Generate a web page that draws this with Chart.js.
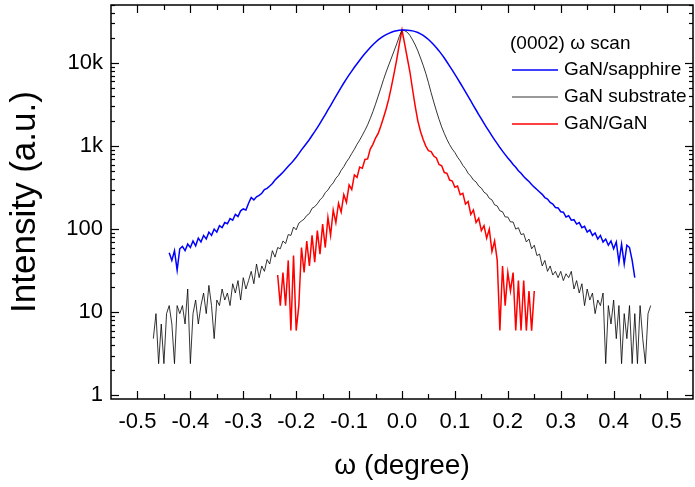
<!DOCTYPE html>
<html>
<head>
<meta charset="utf-8">
<script src="https://cdn.jsdelivr.net/npm/chart.js@4"></script>
<style>
  html, body { margin: 0; padding: 0; background: #fff; }
  #wrap { width: 695px; height: 487px; }
</style>
</head>
<body>
<div id="wrap"><canvas id="chart" width="695" height="487"></canvas></div>
<script>
// omega grid (degree), shared by the three scans
const omega = [
  -0.470,-0.465,-0.460,-0.455,-0.450,-0.445,-0.440,-0.435,-0.430,-0.425,-0.420,-0.415,-0.410,-0.405,-0.400,
  -0.395,-0.390,-0.385,-0.380,-0.375,-0.370,-0.365,-0.360,-0.355,-0.350,-0.345,-0.340,-0.335,-0.330,-0.325,
  -0.320,-0.315,-0.310,-0.305,-0.300,-0.295,-0.290,-0.285,-0.280,-0.275,-0.270,-0.265,-0.260,-0.255,-0.250,
  -0.245,-0.240,-0.235,-0.230,-0.225,-0.220,-0.215,-0.210,-0.205,-0.200,-0.195,-0.190,-0.185,-0.180,-0.175,
  -0.170,-0.165,-0.160,-0.155,-0.150,-0.145,-0.140,-0.135,-0.130,-0.125,-0.120,-0.115,-0.110,-0.105,-0.100,
  -0.095,-0.090,-0.085,-0.080,-0.075,-0.070,-0.065,-0.060,-0.055,-0.050,-0.045,-0.040,-0.035,-0.030,-0.025,
  -0.020,-0.015,-0.010,-0.005,0.000,0.005,0.010,0.015,0.020,0.025,0.030,0.035,0.040,0.045,0.050,
  0.055,0.060,0.065,0.070,0.075,0.080,0.085,0.090,0.095,0.100,0.105,0.110,0.115,0.120,0.125,
  0.130,0.135,0.140,0.145,0.150,0.155,0.160,0.165,0.170,0.175,0.180,0.185,0.190,0.195,0.200,
  0.205,0.210,0.215,0.220,0.225,0.230,0.235,0.240,0.245,0.250,0.255,0.260,0.265,0.270,0.275,
  0.280,0.285,0.290,0.295,0.300,0.305,0.310,0.315,0.320,0.325,0.330,0.335,0.340,0.345,0.350,
  0.355,0.360,0.365,0.370,0.375,0.380,0.385,0.390,0.395,0.400,0.405,0.410,0.415,0.420,0.425,
  0.430,0.435,0.440,0.445,0.450,0.455,0.460,0.465,0.470
];

// GaN/sapphire, omega -0.440 .. 0.440
const sapphireStart = 6;
const sapphire = [
  52,42,55,32,58,62,55,66,60,72,63,78,70,84,76,92,84,100,92,110,
  104,120,116,134,128,150,142,166,175,170,205,240,225,245,255,270,300,310,330,355,
  390,420,450,485,525,570,615,670,735,810,900,990,1090,1200,1340,1490,1670,1880,2120,2400,
  2720,3080,3500,3970,4500,5100,5750,6450,7200,8000,8900,9800,10800,11900,13000,14200,15400,16600,17800,19000,
  20100,21100,22000,22800,23500,24100,24500,24800,
  25000,
  25000,24900,24700,24400,23900,23300,22500,21500,20400,19200,
  17900,16600,15300,14000,12700,11500,10300,9200,8200,7300,
  6500,5750,5100,4500,3970,3500,3080,2720,2400,2120,
  1880,1670,1490,1330,1190,1070,960,870,790,720,
  660,600,555,505,470,430,400,375,345,320,
  300,280,262,240,230,210,200,182,180,162,
  160,140,145,128,130,115,120,104,108,92,
  98,84,90,76,84,70,76,64,72,58,
  70,40,66,38,64,60,42,26
];

// GaN substrate, omega -0.470 .. 0.470
const substrateStart = 0;
const substrate = [
  4.8,9.6,2.4,7.2,2.4,9.6,12,7.2,2.4,12,9.6,12,7.2,19,2.4,
  9.6,14,7.2,12,17,9.6,21,12,4.8,14,12,19,14,17,12,
  22,17,24,14,26,19,24,31,22,38,26,36,31,43,38,
  55,46,60,58,72,67,86,84,106,98,118,125,132,146,154,
  178,186,202,225,242,275,296,332,360,410,445,510,565,645,715,
  815,915,1050,1180,1350,1550,1800,2150,2600,3200,4000,5000,6300,7800,9500,
  11500,14000,17000,21000,25000,24500,23500,21500,19000,16500,14000,11500,9400,7500,5800,
  4400,3400,2650,2100,1700,1420,1200,1040,920,835,735,665,585,535,470,
  435,390,370,330,312,278,265,235,225,196,190,166,162,140,140,
  122,122,100,104,86,88,70,76,58,64,48,50,36,42,31,
  36,28,31,26,31,24,29,26,31,19,24,17,22,12,19,
  14,17,9.6,14,12,17,2.4,12,7.2,14,4.8,12,2.4,9.6,4.8,
  12,2.4,9.6,2.4,12,4.8,2.4,9.6,12
];

// GaN/GaN, omega -0.235 .. 0.250
const homoStart = 47;
const homo = [
  28,12,30,12,42,6,48,6,12,60,30,72,36,84,40,96,50,115,60,138,
  84,170,120,205,160,260,210,340,300,450,420,560,540,690,700,920,1050,1250,1420,1750,
  2200,2800,3700,5200,7500,11000,17000,
  25000,
  17000,11500,7800,4800,3000,2000,1500,1200,1000,880,
  860,760,720,600,580,480,470,390,380,320,
  330,260,270,200,215,150,170,120,135,96,
  110,78,100,54,72,42,6,36,12,30,
  18,30,6,24,6,24,6,18,6,18
];

const xTicks = [-0.5, -0.4, -0.3, -0.2, -0.1, 0.0, 0.1, 0.2, 0.3, 0.4, 0.5];
const yTicks = [1, 10, 100, 1000, 10000];
const yTickLabels = ['1', '10', '100', '1k', '10k'];
const legendTitle = '(0002) \u03c9 scan';

const FONT = 'Arial, "Liberation Sans", sans-serif';

function toPoints(vals, start) {
  return vals.map((v, i) => ({ x: omega[start + i], y: v }));
}

// frame with inward ticks on all four sides + legend inside the plot
const frameAndLegend = {
  id: 'frameAndLegend',
  afterDraw(chart) {
    const { ctx, chartArea: a, scales: { x, y } } = chart;
    ctx.save();
    ctx.strokeStyle = '#000';
    ctx.lineWidth = 1.5;
    ctx.strokeRect(a.left, a.top, a.right - a.left, a.bottom - a.top);

    ctx.lineWidth = 1.2;
    const seg = (x1, y1, x2, y2) => { ctx.beginPath(); ctx.moveTo(x1, y1); ctx.lineTo(x2, y2); ctx.stroke(); };
    // x ticks
    for (let k = -11; k <= 11; k++) {
      const v = k * 0.05;
      const px = Math.round(x.getPixelForValue(v)) + 0.5;
      if (px <= a.left + 1 || px >= a.right - 1) continue;
      const len = (k % 2 === 0) ? 8 : 5;
      seg(px, a.bottom, px, a.bottom - len);
      seg(px, a.top, px, a.top + len);
    }
    // y ticks (log)
    for (let d = 0; d <= 4; d++) {
      for (let m = 1; m <= 9; m++) {
        const v = m * Math.pow(10, d);
        if (v > y.max) continue;
        const py = Math.round(y.getPixelForValue(v)) + 0.5;
        const len = m === 1 ? 8 : 4;
        seg(a.left, py, a.left + len, py);
        seg(a.right, py, a.right - len, py);
      }
    }

    // legend
    ctx.font = '19px ' + FONT;
    ctx.fillStyle = '#000';
    ctx.textBaseline = 'middle';
    ctx.textAlign = 'left';
    ctx.fillText(legendTitle, 510, 44);
    chart.data.datasets.forEach((ds, i) => {
      const ly = 70 + i * 27;
      ctx.strokeStyle = ds.borderColor;
      ctx.lineWidth = ds.borderWidth;
      seg(512, ly, 558, ly);
      ctx.fillText(ds.label, 564, ly);
    });
    ctx.restore();
  }
};

new Chart(document.getElementById('chart'), {
  type: 'line',
  data: {
    datasets: [
      { label: 'GaN/sapphire', data: toPoints(sapphire, sapphireStart), borderColor: '#0000ff', borderWidth: 1.5 },
      { label: 'GaN substrate', data: toPoints(substrate, substrateStart), borderColor: '#000000', borderWidth: 0.8 },
      { label: 'GaN/GaN', data: toPoints(homo, homoStart), borderColor: '#ff0000', borderWidth: 1.5 }
    ]
  },
  options: {
    responsive: false,
    animation: false,
    layout: { padding: { left: 0, right: 2, top: 5, bottom: 0 } },
    elements: { point: { radius: 0 }, line: { tension: 0 } },
    plugins: { legend: { display: false }, tooltip: { enabled: false } },
    scales: {
      x: {
        type: 'linear', min: -0.55, max: 0.55,
        afterBuildTicks: s => { s.ticks = xTicks.map(v => ({ value: v })); },
        afterFit: s => { s.height = 88; },
        grid: { display: false, drawTicks: false },
        border: { display: false },
        ticks: { color: '#000', padding: 10, font: { size: 22, family: FONT },
                 callback: v => v.toFixed(1) },
        title: { display: true, text: '\u03c9 (degree)', color: '#000',
                 font: { size: 28, family: FONT }, padding: { top: 10 } }
      },
      y: {
        type: 'logarithmic', min: 0.9, max: 50000,
        afterBuildTicks: s => { s.ticks = yTicks.map(v => ({ value: v })); },
        afterFit: s => { s.width = 111; s.paddingTop = 0; s.paddingBottom = 0; },
        grid: { display: false, drawTicks: false },
        border: { display: false },
        ticks: { color: '#000', padding: 8, font: { size: 22, family: FONT },
                 callback: (v) => yTickLabels[yTicks.indexOf(v)] },
        title: { display: true, text: 'Intensity (a.u.)', color: '#000',
                 font: { size: 35, family: FONT }, padding: { bottom: 0 } }
      }
    }
  },
  plugins: [frameAndLegend]
});
</script>
</body>
</html>
